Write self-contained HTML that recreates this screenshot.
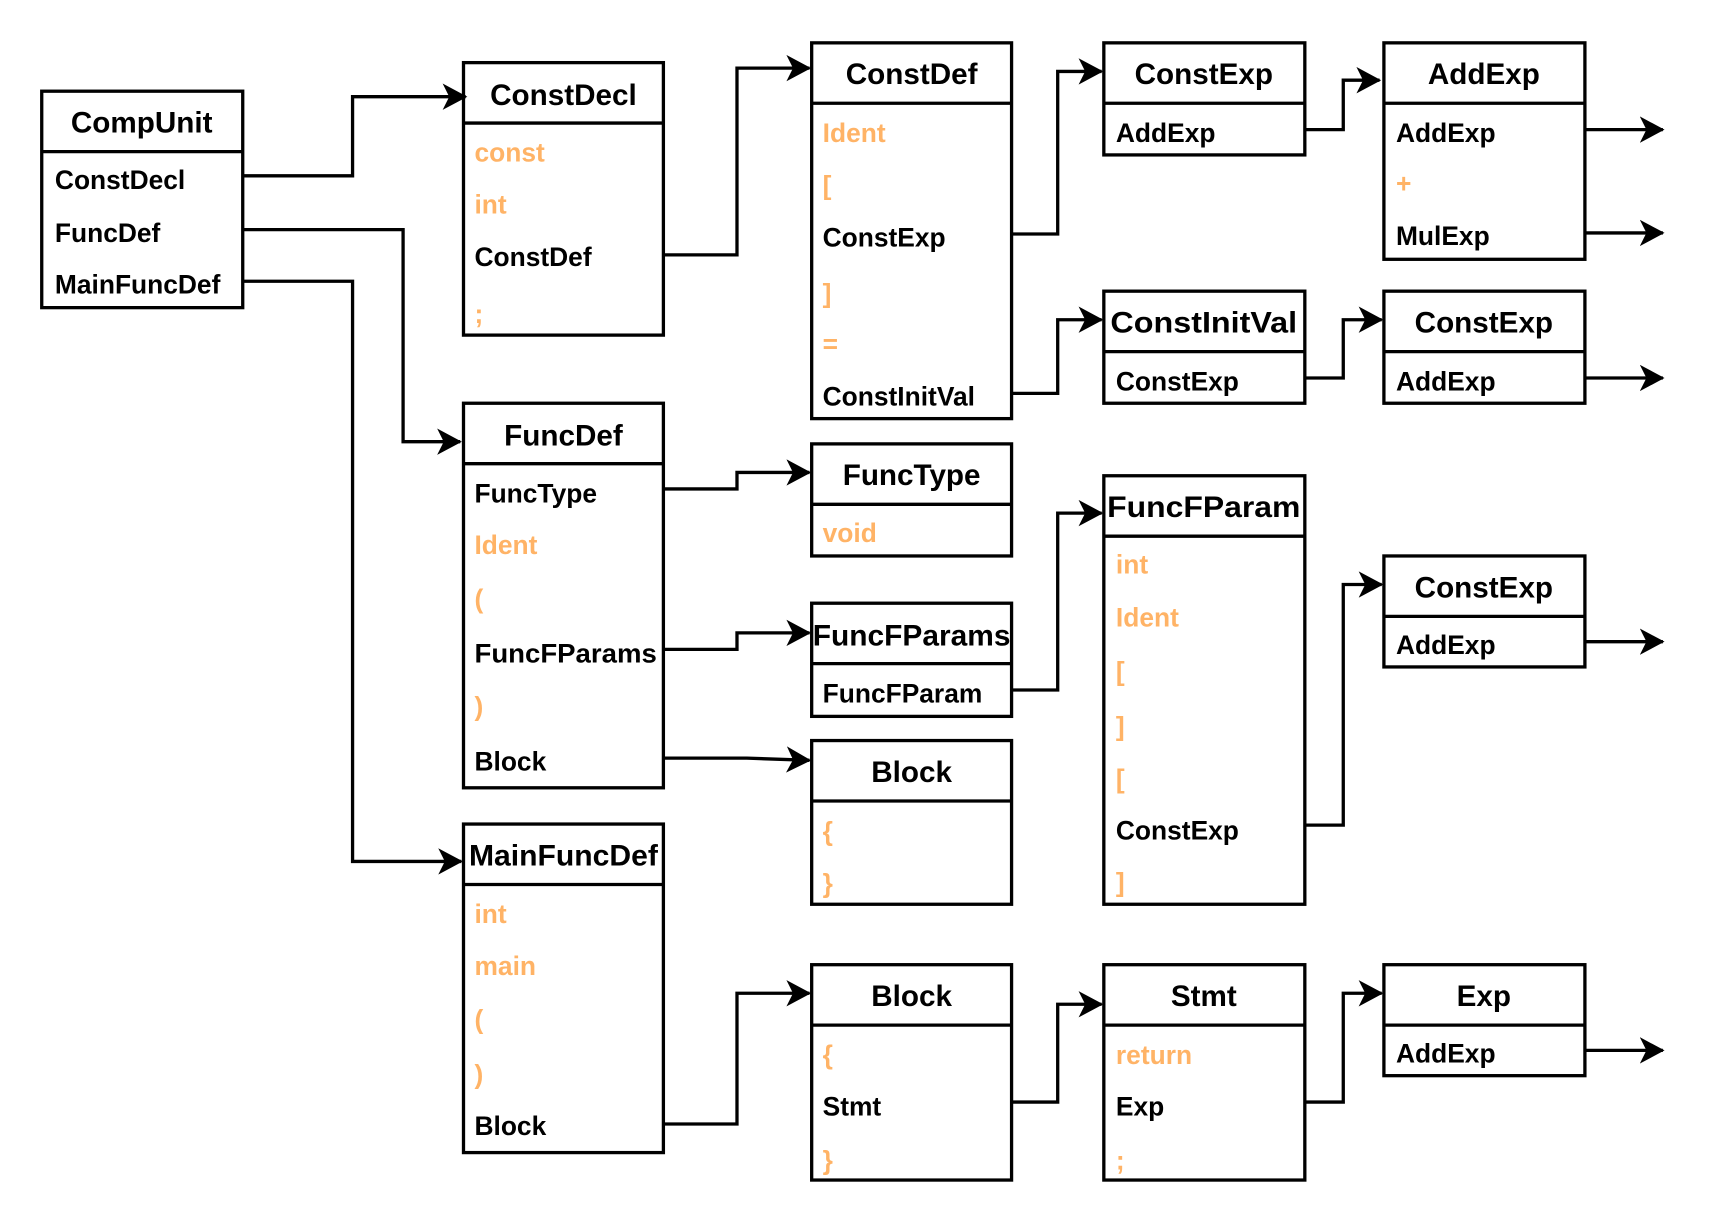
<!DOCTYPE html>
<html><head><meta charset="utf-8"><style>
html,body{margin:0;padding:0;background:#fff;}
svg{display:block;}
text{font-family:"Liberation Sans",Arial,sans-serif;font-weight:bold;dominant-baseline:central;}
.t{font-size:27px;text-anchor:middle;fill:#000;}
.r{font-size:24px;fill:#000;}
.o{font-size:24px;fill:#FFB366;}
.b{fill:none;stroke:#000;stroke-width:3;}
.c{fill:none;stroke:#000;stroke-width:3;}
</style></head><body>
<svg width="1720" height="1224" viewBox="0 0 1566 1114" preserveAspectRatio="none" xmlns="http://www.w3.org/2000/svg">
<defs>
<marker id="a" markerWidth="8" markerHeight="8" refX="7" refY="4" orient="auto" markerUnits="strokeWidth">
<path d="M0,0 L7.5,4 L0,8 L2,4 Z" fill="#000"/>
</marker>
</defs>

<rect class="b" x="38" y="83" width="183" height="197"/><line class="b" x1="38" y1="138" x2="221" y2="138"/>
<text class="t" x="129" y="112">CompUnit</text>
<text class="r" x="50" y="164">ConstDecl</text>
<text class="r" x="50" y="212">FuncDef</text>
<text class="r" x="50" y="259">MainFuncDef</text>

<rect class="b" x="422" y="57" width="182" height="248"/><line class="b" x1="422" y1="112" x2="604" y2="112"/>
<text class="t" x="513" y="87">ConstDecl</text>
<text class="o" x="432" y="139">const</text>
<text class="o" x="432" y="186">int</text>
<text class="r" x="432" y="234">ConstDef</text>
<text class="o" x="432" y="286">;</text>

<rect class="b" x="739" y="39" width="182" height="342"/><line class="b" x1="739" y1="94" x2="921" y2="94"/>
<text class="t" x="830" y="68">ConstDef</text>
<text class="o" x="749" y="121">Ident</text>
<text class="o" x="749" y="169">[</text>
<text class="r" x="749" y="216">ConstExp</text>
<text class="o" x="749" y="267">]</text>
<text class="o" x="749" y="313">=</text>
<text class="r" x="749" y="361">ConstInitVal</text>

<rect class="b" x="1005" y="39" width="183" height="102"/><line class="b" x1="1005" y1="94" x2="1188" y2="94"/>
<text class="t" x="1096" y="68">ConstExp</text>
<text class="r" x="1016" y="121">AddExp</text>

<rect class="b" x="1260" y="39" width="183" height="197"/><line class="b" x1="1260" y1="94" x2="1443" y2="94"/>
<text class="t" x="1351" y="68">AddExp</text>
<text class="r" x="1271" y="121">AddExp</text>
<text class="o" x="1271" y="167">+</text>
<text class="r" x="1271" y="215">MulExp</text>

<rect class="b" x="1005" y="265" width="183" height="102"/><line class="b" x1="1005" y1="320" x2="1188" y2="320"/>
<text class="t" x="1096" y="294" textLength="170" lengthAdjust="spacingAndGlyphs">ConstInitVal</text>
<text class="r" x="1016" y="347">ConstExp</text>

<rect class="b" x="1260" y="265" width="183" height="102"/><line class="b" x1="1260" y1="320" x2="1443" y2="320"/>
<text class="t" x="1351" y="294">ConstExp</text>
<text class="r" x="1271" y="347">AddExp</text>

<rect class="b" x="422" y="367" width="182" height="350"/><line class="b" x1="422" y1="422" x2="604" y2="422"/>
<text class="t" x="513" y="397">FuncDef</text>
<text class="r" x="432" y="449">FuncType</text>
<text class="o" x="432" y="496">Ident</text>
<text class="o" x="432" y="545">(</text>
<text class="r" x="432" y="595" textLength="166" lengthAdjust="spacingAndGlyphs">FuncFParams</text>
<text class="o" x="432" y="643">)</text>
<text class="r" x="432" y="693">Block</text>

<rect class="b" x="739" y="404" width="182" height="102"/><line class="b" x1="739" y1="459" x2="921" y2="459"/>
<text class="t" x="830" y="433">FuncType</text>
<text class="o" x="749" y="485">void</text>

<rect class="b" x="739" y="549" width="182" height="103"/><line class="b" x1="739" y1="604" x2="921" y2="604"/>
<text class="t" x="830" y="579" textLength="180" lengthAdjust="spacingAndGlyphs">FuncFParams</text>
<text class="r" x="749" y="631">FuncFParam</text>

<rect class="b" x="739" y="674" width="182" height="149"/><line class="b" x1="739" y1="729" x2="921" y2="729"/>
<text class="t" x="830" y="703">Block</text>
<text class="o" x="749" y="757">{</text>
<text class="o" x="749" y="804">}</text>

<rect class="b" x="1005" y="433" width="183" height="390"/><line class="b" x1="1005" y1="488" x2="1188" y2="488"/>
<text class="t" x="1096" y="462" textLength="176" lengthAdjust="spacingAndGlyphs">FuncFParam</text>
<text class="o" x="1016" y="514">int</text>
<text class="o" x="1016" y="562">Ident</text>
<text class="o" x="1016" y="611">[</text>
<text class="o" x="1016" y="661">]</text>
<text class="o" x="1016" y="709">[</text>
<text class="r" x="1016" y="756">ConstExp</text>
<text class="o" x="1016" y="803">]</text>

<rect class="b" x="1260" y="506" width="183" height="101"/><line class="b" x1="1260" y1="561" x2="1443" y2="561"/>
<text class="t" x="1351" y="535">ConstExp</text>
<text class="r" x="1271" y="587">AddExp</text>

<rect class="b" x="422" y="750" width="182" height="299"/><line class="b" x1="422" y1="805" x2="604" y2="805"/>
<text class="t" x="513" y="779" textLength="172" lengthAdjust="spacingAndGlyphs">MainFuncDef</text>
<text class="o" x="432" y="832">int</text>
<text class="o" x="432" y="879">main</text>
<text class="o" x="432" y="928">(</text>
<text class="o" x="432" y="978">)</text>
<text class="r" x="432" y="1025">Block</text>

<rect class="b" x="739" y="878" width="182" height="196"/><line class="b" x1="739" y1="933" x2="921" y2="933"/>
<text class="t" x="830" y="907">Block</text>
<text class="o" x="749" y="960">{</text>
<text class="r" x="749" y="1007">Stmt</text>
<text class="o" x="749" y="1056">}</text>

<rect class="b" x="1005" y="878" width="183" height="196"/><line class="b" x1="1005" y1="933" x2="1188" y2="933"/>
<text class="t" x="1096" y="907">Stmt</text>
<text class="o" x="1016" y="960">return</text>
<text class="r" x="1016" y="1007">Exp</text>
<text class="o" x="1016" y="1056">;</text>

<rect class="b" x="1260" y="878" width="183" height="101"/><line class="b" x1="1260" y1="933" x2="1443" y2="933"/>
<text class="t" x="1351" y="907">Exp</text>
<text class="r" x="1271" y="959">AddExp</text>

<polyline class="c" marker-end="url(#a)" points="221,160 321,160 321,88 424,88"/>
<polyline class="c" marker-end="url(#a)" points="221,209 367,209 367,402 419,402"/>
<polyline class="c" marker-end="url(#a)" points="221,256 321,256 321,784 420,784"/>
<polyline class="c" marker-end="url(#a)" points="604,232 671,232 671,62 737,62"/>
<polyline class="c" marker-end="url(#a)" points="921,213 963,213 963,65 1003,65"/>
<polyline class="c" marker-end="url(#a)" points="921,358 963,358 963,291 1003,291"/>
<polyline class="c" marker-end="url(#a)" points="1188,118 1223,118 1223,73 1256,73"/>
<polyline class="c" marker-end="url(#a)" points="1188,344 1223,344 1223,291 1258,291"/>
<polyline class="c" marker-end="url(#a)" points="1443,118 1514,118"/>
<polyline class="c" marker-end="url(#a)" points="1443,212 1514,212"/>
<polyline class="c" marker-end="url(#a)" points="1443,344 1514,344"/>
<polyline class="c" marker-end="url(#a)" points="1443,584 1514,584"/>
<polyline class="c" marker-end="url(#a)" points="1443,956 1514,956"/>
<polyline class="c" marker-end="url(#a)" points="604,445 671,445 671,430 737,430"/>
<polyline class="c" marker-end="url(#a)" points="604,591 671,591 671,576 737,576"/>
<polyline class="c" marker-end="url(#a)" points="604,690 680,690 737,692"/>
<polyline class="c" marker-end="url(#a)" points="921,628 963,628 963,467 1003,467"/>
<polyline class="c" marker-end="url(#a)" points="1188,751 1223,751 1223,532 1258,532"/>
<polyline class="c" marker-end="url(#a)" points="604,1023 671,1023 671,904 737,904"/>
<polyline class="c" marker-end="url(#a)" points="921,1003 963,1003 963,914 1003,914"/>
<polyline class="c" marker-end="url(#a)" points="1188,1003 1223,1003 1223,904 1258,904"/>
</svg>
</body></html>
